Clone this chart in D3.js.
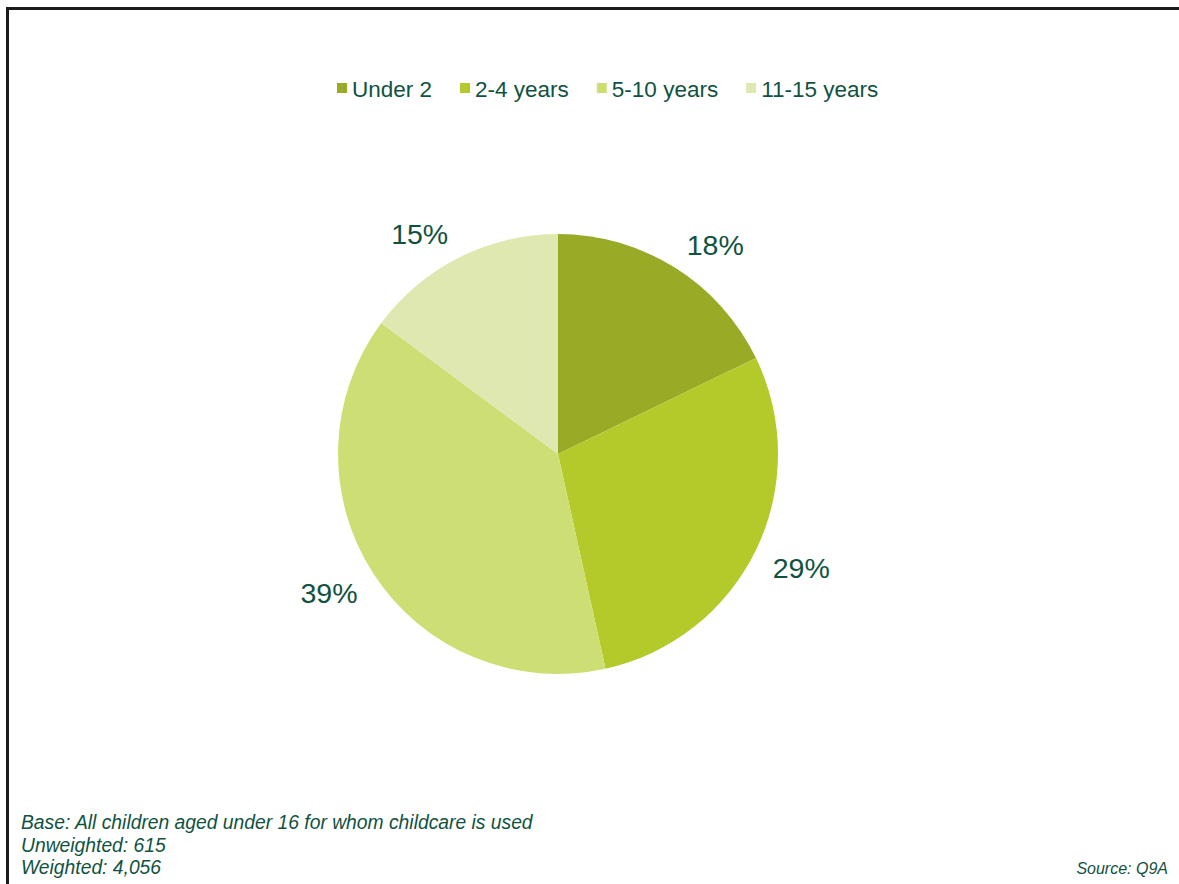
<!DOCTYPE html>
<html>
<head>
<meta charset="utf-8">
<script src="https://cdn.jsdelivr.net/npm/d3@7"></script>
<style>
  html, body { margin: 0; padding: 0; background: #ffffff; }
  svg { display: block; }
  text { font-family: "Liberation Sans", Arial, sans-serif; }
</style>
</head>
<body>
<script>
// Age groups of children for whom childcare is used (share, %)
const categories = ["Under 2", "2-4 years", "5-10 years", "11-15 years"];
const values = [18, 29, 39, 15];
const colors = ["#99aa26", "#b3ca2a", "#cddf74", "#dfe8b1"];
const footnotes = [
  "Base: All children aged under 16 for whom childcare is used",
  "Unweighted: 615",
  "Weighted: 4,056"
];
const sourceNote = "Source: Q9A";

const W = 1179, H = 884;
const textColor = "#10523f";

const svg = d3.select("body").append("svg")
  .attr("width", W).attr("height", H);

// frame: top and left rules
svg.append("path")
  .attr("d", `M7.5,${H} L7.5,8.5 L${W},8.5`)
  .attr("fill", "none")
  .attr("stroke", "#1c1c1c")
  .attr("stroke-width", 3);

// pie
const cx = 558, cy = 454, R = 220;
const color = d3.scaleOrdinal().domain(categories).range(colors);
const pie = d3.pie().sort(null).value(d => d.value);
const arcs = pie(categories.map((c, i) => ({ cat: c, value: values[i] })));
const arc = d3.arc().innerRadius(0).outerRadius(R);

const g = svg.append("g").attr("transform", `translate(${cx},${cy})`);
g.selectAll("path.slice")
  .data(arcs)
  .join("path")
  .attr("class", "slice")
  .attr("d", arc)
  .attr("fill", d => color(d.data.cat));

// data labels, placed just outside the rim along each slice's mid-angle
const labelFont = 28.5, gap = 13, padX = 5;
const labels = g.selectAll("text.lbl")
  .data(arcs)
  .join("text")
  .attr("class", "lbl")
  .attr("font-size", labelFont)
  .attr("fill", textColor)
  .attr("text-anchor", "middle")
  .attr("dominant-baseline", "central")
  .text(d => d.data.value + "%");

labels.each(function(d) {
  const a = (d.startAngle + d.endAngle) / 2;
  const ux = Math.sin(a), uy = -Math.cos(a);
  const bb = this.getBBox();
  const ax = (R + gap) * ux, ay = (R + gap) * uy;
  const x = ax + Math.sign(ux) * (bb.width / 2 + padX);
  const y = ay + Math.sign(uy) * 12;
  d3.select(this).attr("x", x).attr("y", y);
});

// legend
const legend = svg.append("g").attr("transform", "translate(337,88)");
let lx = 0;
categories.forEach((c, i) => {
  const item = legend.append("g").attr("transform", `translate(${lx},0)`);
  item.append("rect")
    .attr("x", 0).attr("y", -5)
    .attr("width", 10).attr("height", 10)
    .attr("fill", color(c));
  const t = item.append("text")
    .attr("x", 15).attr("y", 1)
    .attr("dominant-baseline", "central")
    .attr("font-size", 22.5)
    .attr("fill", textColor)
    .text(c);
  lx += 15 + t.node().getComputedTextLength() + 28;
});

// footnotes
svg.selectAll("text.foot")
  .data(footnotes)
  .join("text")
  .attr("class", "foot")
  .attr("x", 21)
  .attr("y", (d, i) => 829 + i * 22.5)
  .attr("font-size", 19.3)
  .attr("font-style", "italic")
  .attr("fill", textColor)
  .text(d => d);

svg.append("text")
  .attr("x", 1168).attr("y", 874)
  .attr("text-anchor", "end")
  .attr("font-size", 16)
  .attr("font-style", "italic")
  .attr("fill", textColor)
  .text(sourceNote);
</script>
</body>
</html>
